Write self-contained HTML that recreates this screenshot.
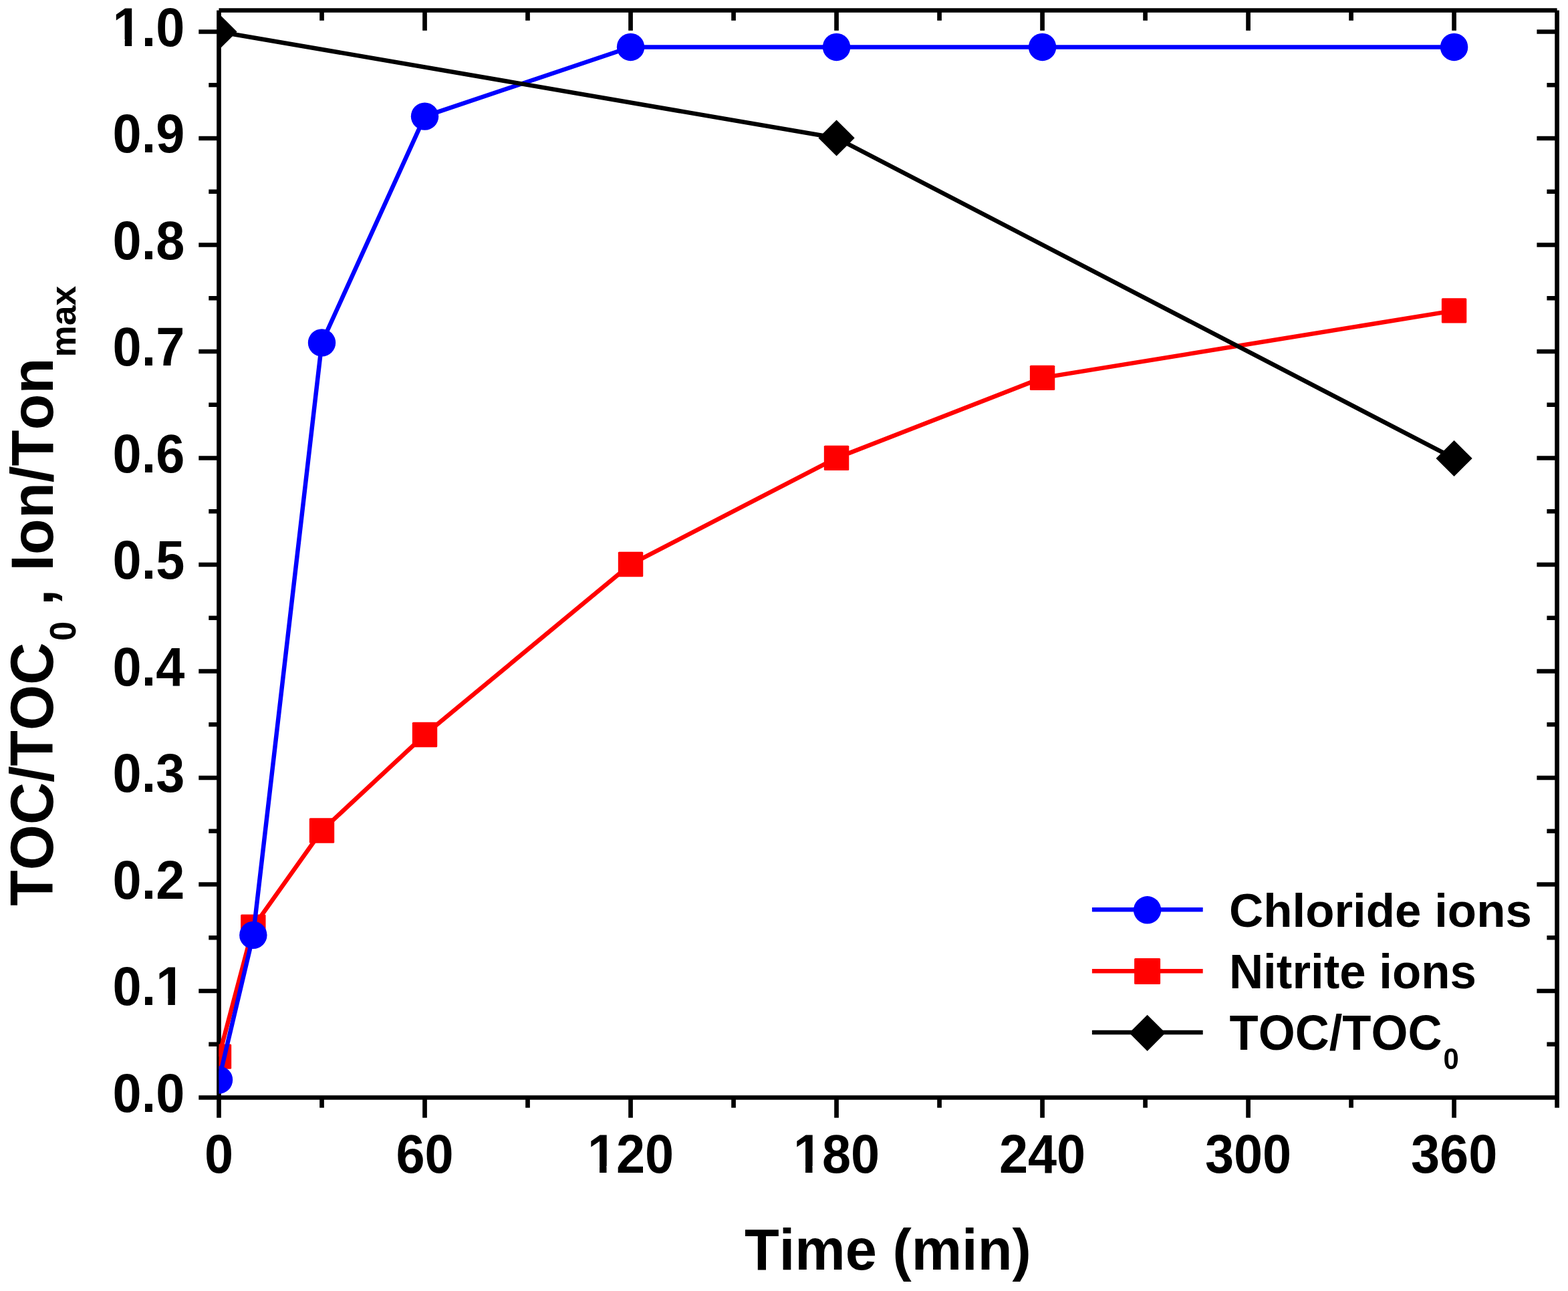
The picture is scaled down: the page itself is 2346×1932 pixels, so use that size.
<!DOCTYPE html>
<html><head><meta charset="utf-8"><style>
html,body{margin:0;padding:0;background:#fff;}
body{width:2346px;height:1932px;overflow:hidden;}
svg{display:block;font-kerning:none;}
text{font-kerning:none;}
</style></head><body>
<svg width="2346" height="1932" viewBox="0 0 2346 1932">
<rect width="2346" height="1932" fill="#fff"/>
<path d="M327.5 15.5V1642.5 M327.5 1642.5H2329.6 M327.5 15.5H2329.6 M2329.6 15.5V1642.5 M297.30 1642.50H327.5 M2329.6 1642.50H2299.40 M312.30 1562.75H327.5 M2329.6 1562.75H2314.40 M297.30 1483.00H327.5 M2329.6 1483.00H2299.40 M312.30 1403.25H327.5 M2329.6 1403.25H2314.40 M297.30 1323.50H327.5 M2329.6 1323.50H2299.40 M312.30 1243.75H327.5 M2329.6 1243.75H2314.40 M297.30 1164.00H327.5 M2329.6 1164.00H2299.40 M312.30 1084.25H327.5 M2329.6 1084.25H2314.40 M297.30 1004.50H327.5 M2329.6 1004.50H2299.40 M312.30 924.75H327.5 M2329.6 924.75H2314.40 M297.30 845.00H327.5 M2329.6 845.00H2299.40 M312.30 765.25H327.5 M2329.6 765.25H2314.40 M297.30 685.50H327.5 M2329.6 685.50H2299.40 M312.30 605.75H327.5 M2329.6 605.75H2314.40 M297.30 526.00H327.5 M2329.6 526.00H2299.40 M312.30 446.25H327.5 M2329.6 446.25H2314.40 M297.30 366.50H327.5 M2329.6 366.50H2299.40 M312.30 286.75H327.5 M2329.6 286.75H2314.40 M297.30 207.00H327.5 M2329.6 207.00H2299.40 M312.30 127.25H327.5 M2329.6 127.25H2314.40 M297.30 47.50H327.5 M2329.6 47.50H2299.40 M327.50 1642.5V1672.70 M481.51 1642.5V1657.70 M481.51 15.5V30.70 M635.52 1642.5V1672.70 M635.52 15.5V45.70 M789.52 1642.5V1657.70 M789.52 15.5V30.70 M943.53 1642.5V1672.70 M943.53 15.5V45.70 M1097.54 1642.5V1657.70 M1097.54 15.5V30.70 M1251.55 1642.5V1672.70 M1251.55 15.5V45.70 M1405.55 1642.5V1657.70 M1405.55 15.5V30.70 M1559.56 1642.5V1672.70 M1559.56 15.5V45.70 M1713.57 1642.5V1657.70 M1713.57 15.5V30.70 M1867.58 1642.5V1672.70 M1867.58 15.5V45.70 M2021.58 1642.5V1657.70 M2021.58 15.5V30.70 M2175.59 1642.5V1672.70 M2175.59 15.5V45.70 M2329.60 1642.5V1657.70" stroke="#000" stroke-width="6.7" fill="none" stroke-linecap="butt"/>
<defs><clipPath id="c"><rect x="327.5" y="15.5" width="2002.1" height="1627.0"/></clipPath></defs>
<g clip-path="url(#c)">
<polyline points="327.50,1581.09 378.84,1387.30 481.51,1242.95 635.52,1099.56 943.53,844.52 1251.55,685.34 1559.56,565.40 2175.59,464.91" fill="none" stroke="#f00" stroke-width="6.5" stroke-linejoin="round"/>
<rect x="308.80" y="1562.39" width="37.4" height="37.4" rx="1.5" fill="#f00"/>
<rect x="360.14" y="1368.60" width="37.4" height="37.4" rx="1.5" fill="#f00"/>
<rect x="462.81" y="1224.25" width="37.4" height="37.4" rx="1.5" fill="#f00"/>
<rect x="616.82" y="1080.86" width="37.4" height="37.4" rx="1.5" fill="#f00"/>
<rect x="924.83" y="825.82" width="37.4" height="37.4" rx="1.5" fill="#f00"/>
<rect x="1232.85" y="666.64" width="37.4" height="37.4" rx="1.5" fill="#f00"/>
<rect x="1540.86" y="546.70" width="37.4" height="37.4" rx="1.5" fill="#f00"/>
<rect x="2156.89" y="446.21" width="37.4" height="37.4" rx="1.5" fill="#f00"/>
<polyline points="327.50,1616.02 378.84,1399.42 481.51,512.92 635.52,174.14 943.53,70.47 1251.55,70.47 1559.56,70.47 2175.59,70.47" fill="none" stroke="#00f" stroke-width="6.5" stroke-linejoin="round"/>
<circle cx="327.50" cy="1616.02" r="20.7" fill="#00f"/>
<circle cx="378.84" cy="1399.42" r="20.7" fill="#00f"/>
<circle cx="481.51" cy="512.92" r="20.7" fill="#00f"/>
<circle cx="635.52" cy="174.14" r="20.7" fill="#00f"/>
<circle cx="943.53" cy="70.47" r="20.7" fill="#00f"/>
<circle cx="1251.55" cy="70.47" r="20.7" fill="#00f"/>
<circle cx="1559.56" cy="70.47" r="20.7" fill="#00f"/>
<circle cx="2175.59" cy="70.47" r="20.7" fill="#00f"/>
<polyline points="327.50,47.50 1251.55,206.52 2175.59,685.98" fill="none" stroke="#000" stroke-width="6.5" stroke-linejoin="round"/>
<polygon points="327.50,20.40 354.60,47.50 327.50,74.60 300.40,47.50" fill="#000"/>
<polygon points="1251.55,179.42 1278.65,206.52 1251.55,233.62 1224.45,206.52" fill="#000"/>
<polygon points="2175.59,658.88 2202.69,685.98 2175.59,713.08 2148.49,685.98" fill="#000"/>
</g>
<text font-family="Liberation Sans, Arial, sans-serif" font-weight="bold" font-size="82.00" text-anchor="end" transform="translate(276.30 1663.75) scale(0.945 1)">0.0</text>
<text font-family="Liberation Sans, Arial, sans-serif" font-weight="bold" font-size="82.00" text-anchor="end" transform="translate(276.30 1504.25) scale(0.945 1)" clip-path="url(#k0)">0.1</text>
<text font-family="Liberation Sans, Arial, sans-serif" font-weight="bold" font-size="82.00" text-anchor="end" transform="translate(276.30 1344.75) scale(0.945 1)">0.2</text>
<text font-family="Liberation Sans, Arial, sans-serif" font-weight="bold" font-size="82.00" text-anchor="end" transform="translate(276.30 1185.25) scale(0.945 1)">0.3</text>
<text font-family="Liberation Sans, Arial, sans-serif" font-weight="bold" font-size="82.00" text-anchor="end" transform="translate(276.30 1025.75) scale(0.945 1)">0.4</text>
<text font-family="Liberation Sans, Arial, sans-serif" font-weight="bold" font-size="82.00" text-anchor="end" transform="translate(276.30 866.25) scale(0.945 1)">0.5</text>
<text font-family="Liberation Sans, Arial, sans-serif" font-weight="bold" font-size="82.00" text-anchor="end" transform="translate(276.30 706.75) scale(0.945 1)">0.6</text>
<text font-family="Liberation Sans, Arial, sans-serif" font-weight="bold" font-size="82.00" text-anchor="end" transform="translate(276.30 547.25) scale(0.945 1)">0.7</text>
<text font-family="Liberation Sans, Arial, sans-serif" font-weight="bold" font-size="82.00" text-anchor="end" transform="translate(276.30 387.75) scale(0.945 1)">0.8</text>
<text font-family="Liberation Sans, Arial, sans-serif" font-weight="bold" font-size="82.00" text-anchor="end" transform="translate(276.30 228.25) scale(0.945 1)">0.9</text>
<text font-family="Liberation Sans, Arial, sans-serif" font-weight="bold" font-size="82.00" text-anchor="end" transform="translate(276.30 68.75) scale(0.945 1)" clip-path="url(#k1)">1.0</text>
<text font-family="Liberation Sans, Arial, sans-serif" font-weight="bold" font-size="82.00" text-anchor="middle" transform="translate(327.50 1754.90) scale(0.945 1)">0</text>
<text font-family="Liberation Sans, Arial, sans-serif" font-weight="bold" font-size="82.00" text-anchor="middle" transform="translate(635.52 1754.90) scale(0.945 1)">60</text>
<text font-family="Liberation Sans, Arial, sans-serif" font-weight="bold" font-size="82.00" text-anchor="middle" transform="translate(943.53 1754.90) scale(0.945 1)" clip-path="url(#k2)">120</text>
<text font-family="Liberation Sans, Arial, sans-serif" font-weight="bold" font-size="82.00" text-anchor="middle" transform="translate(1251.55 1754.90) scale(0.945 1)" clip-path="url(#k3)">180</text>
<text font-family="Liberation Sans, Arial, sans-serif" font-weight="bold" font-size="82.00" text-anchor="middle" transform="translate(1559.56 1754.90) scale(0.945 1)">240</text>
<text font-family="Liberation Sans, Arial, sans-serif" font-weight="bold" font-size="82.00" text-anchor="middle" transform="translate(1867.58 1754.90) scale(0.945 1)">300</text>
<text font-family="Liberation Sans, Arial, sans-serif" font-weight="bold" font-size="82.00" text-anchor="middle" transform="translate(2175.59 1754.90) scale(0.945 1)">360</text>
<defs><clipPath id="k0"><path clip-rule="evenodd" d="M-163.99 -120H50.00V40H-163.99Z M-41.60 -9.87H-26.37V2H-41.60Z M-15.31 -9.87H-1.16V2H-15.31Z"/></clipPath><clipPath id="k1"><path clip-rule="evenodd" d="M-163.99 -120H50.00V40H-163.99Z M-109.99 -9.87H-94.75V2H-109.99Z M-83.70 -9.87H-69.55V2H-83.70Z"/></clipPath><clipPath id="k2"><path clip-rule="evenodd" d="M-118.41 -120H118.41V40H-118.41Z M-64.40 -9.87H-49.17V2H-64.40Z M-38.12 -9.87H-23.96V2H-38.12Z"/></clipPath><clipPath id="k3"><path clip-rule="evenodd" d="M-118.41 -120H118.41V40H-118.41Z M-64.40 -9.87H-49.17V2H-64.40Z M-38.12 -9.87H-23.96V2H-38.12Z"/></clipPath></defs>
<text font-family="Liberation Sans, Arial, sans-serif" font-weight="bold" font-size="86.30" transform="translate(1113.95 1899.80) scale(0.9830 1)">Time (min)</text>
<text font-family="Liberation Sans, Arial, sans-serif" font-weight="bold" font-size="91.28" transform="translate(78.90 1355.78) rotate(-90) scale(0.9602 1)">TOC/TOC</text>
<text font-family="Liberation Sans, Arial, sans-serif" font-weight="bold" font-size="55.00" transform="translate(113.40 958.97) rotate(-90) scale(0.9520 1)">0</text>
<text font-family="Liberation Sans, Arial, sans-serif" font-weight="bold" font-size="91.28" transform="translate(78.9 905.95) rotate(-90) scale(0.9602 1)">,</text>
<text font-family="Liberation Sans, Arial, sans-serif" font-weight="bold" font-size="89.30" transform="translate(78.90 854.72) rotate(-90) scale(0.9908 1)">Ion/Ton</text>
<text font-family="Liberation Sans, Arial, sans-serif" font-weight="bold" font-size="52.81" transform="translate(113.00 534.52) rotate(-90) scale(1.0105 1)">max</text>
<path d="M1633.9 1361.3H1799.7" stroke="#00f" stroke-width="6.5"/>
<circle cx="1716.6" cy="1361.8" r="20.7" fill="#00f"/>
<path d="M1633.9 1453.2H1799.7" stroke="#f00" stroke-width="6.5"/>
<rect x="1697.10" y="1434.00" width="39" height="39" rx="1.5" fill="#f00"/>
<path d="M1633.9 1545.0H1799.7" stroke="#000" stroke-width="6.5"/>
<polygon points="1716.6,1518.70 1743.6999999999998,1545.80 1716.6,1572.90 1689.5,1545.80" fill="#000"/>
<text font-family="Liberation Sans, Arial, sans-serif" font-weight="bold" font-size="70.60" transform="translate(1838.99 1387.00) scale(1.0041 1)">Chloride ions</text>
<text font-family="Liberation Sans, Arial, sans-serif" font-weight="bold" font-size="71.50" transform="translate(1838.96 1478.90) scale(0.9910 1)">Nitrite ions</text>
<text font-family="Liberation Sans, Arial, sans-serif" font-weight="bold" font-size="73.40" transform="translate(1839.61 1570.90) scale(0.9626 1)">TOC/TOC</text>
<text font-family="Liberation Sans, Arial, sans-serif" font-weight="bold" font-size="44.25" transform="translate(2159.45 1599.90) scale(0.9455 1)">0</text>
</svg>
</body></html>
